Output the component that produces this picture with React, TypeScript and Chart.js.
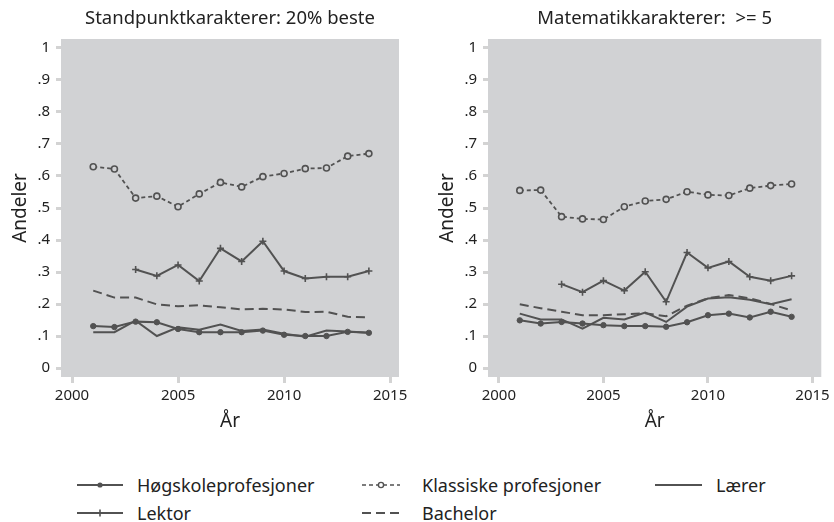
import React, { useEffect, useRef } from "react";
import { Chart, registerables } from "chart.js";

Chart.register(...registerables);

// ---------- data ----------
const years = [2001, 2002, 2003, 2004, 2005, 2006, 2007, 2008, 2009, 2010, 2011, 2012, 2013, 2014];
const yTicks = [0, 0.1, 0.2, 0.3, 0.4, 0.5, 0.6, 0.7, 0.8, 0.9, 1];
const xTicks = [2000, 2005, 2010, 2015];

const leftTitle = "Standpunktkarakterer: 20% beste";
const rightTitle = "Matematikkarakterer:  >= 5";

const hogskoleL = [0.131, 0.128, 0.145, 0.143, 0.122, 0.112, 0.112, 0.112, 0.117, 0.104, 0.100, 0.100, 0.113, 0.110];
const klassiskeL = [0.629, 0.622, 0.531, 0.537, 0.504, 0.544, 0.580, 0.566, 0.598, 0.608, 0.623, 0.625, 0.662, 0.670];
const laererL = [0.112, 0.112, 0.148, 0.100, 0.127, 0.120, 0.136, 0.116, 0.120, 0.107, 0.098, 0.117, 0.114, 0.110];
const lektorL = [null, null, 0.308, 0.288, 0.322, 0.272, 0.374, 0.333, 0.396, 0.303, 0.280, 0.285, 0.285, 0.303];
const bachelorL = [0.242, 0.220, 0.220, 0.199, 0.193, 0.196, 0.190, 0.183, 0.185, 0.183, 0.175, 0.176, 0.160, 0.158];

const hogskoleR = [0.149, 0.139, 0.144, 0.139, 0.134, 0.131, 0.131, 0.129, 0.143, 0.165, 0.170, 0.158, 0.176, 0.160];
const klassiskeR = [0.555, 0.556, 0.473, 0.466, 0.464, 0.504, 0.522, 0.527, 0.551, 0.541, 0.539, 0.562, 0.570, 0.575];
const laererR = [0.170, 0.152, 0.152, 0.123, 0.157, 0.152, 0.173, 0.144, 0.192, 0.217, 0.221, 0.213, 0.199, 0.215];
const lektorR = [null, null, 0.262, 0.237, 0.273, 0.242, 0.301, 0.207, 0.361, 0.313, 0.333, 0.285, 0.273, 0.288];
const bachelorR = [0.199, 0.187, 0.176, 0.165, 0.165, 0.168, 0.171, 0.162, 0.195, 0.218, 0.228, 0.218, 0.200, 0.180];

const seriesNames = ["Høgskoleprofesjoner", "Klassiske profesjoner", "Lærer", "Lektor", "Bachelor"];

// ---------- styles ----------
const FONT = "'Noto Sans', 'DejaVu Sans', sans-serif";
const LINE = "#525252";
const BG = "#d1d2d4";
const TEXT = "#222222";
const TICK = "#d3d3d3";

const toPoints = (vals: (number | null)[]) =>
  years.map((x, i) => ({ x, y: vals[i] })).filter((p) => p.y !== null);

const bgPlugin = {
  id: "plotBg",
  beforeDraw(chart: any) {
    const { ctx, chartArea } = chart;
    if (!chartArea) return;
    ctx.save();
    ctx.fillStyle = BG;
    ctx.fillRect(chartArea.left, chartArea.top, chartArea.right - chartArea.left, chartArea.bottom - chartArea.top);
    ctx.restore();
  },
};

function makeConfig(
  title: string,
  data: { h: any[]; k: any[]; la: any[]; le: any[]; b: any[] },
  yWidth: number,
  yTitlePad: number,
  rightPad: number
): any {
  const base = { borderColor: LINE, borderWidth: 2, tension: 0, fill: false };
  return {
    type: "line",
    data: {
      datasets: [
        { ...base, label: seriesNames[0], data: toPoints(data.h), pointStyle: "circle", pointRadius: 2.7, pointBackgroundColor: LINE, pointBorderColor: LINE, pointBorderWidth: 1 },
        { ...base, label: seriesNames[1], data: toPoints(data.k), borderWidth: 1.8, borderDash: [4, 3], pointStyle: "circle", pointRadius: 3, pointBackgroundColor: BG, pointBorderColor: LINE, pointBorderWidth: 1.6 },
        { ...base, label: seriesNames[2], data: toPoints(data.la), pointRadius: 0 },
        { ...base, label: seriesNames[3], data: toPoints(data.le), pointStyle: "cross", pointRadius: 3.5, pointBorderColor: LINE, pointBorderWidth: 1.6 },
        { ...base, label: seriesNames[4], data: toPoints(data.b), borderDash: [9, 5], pointRadius: 0 },
      ],
    },
    options: {
      responsive: false,
      animation: false,
      devicePixelRatio: 1,
      layout: { padding: { left: 0, right: rightPad, top: 0, bottom: 0 } },
      plugins: {
        legend: { display: false },
        tooltip: { enabled: false },
        title: {
          display: true,
          text: title,
          fullSize: false,
          color: TEXT,
          font: { family: FONT, size: 18.5, weight: "normal", lineHeight: 1.2 },
          padding: { top: 8, bottom: 8.8 },
        },
      },
      scales: {
        x: {
          type: "linear",
          min: 1999.48,
          max: 2015.42,
          afterBuildTicks: (s: any) => {
            s.ticks = xTicks.map((v) => ({ value: v }));
          },
          afterFit: (s: any) => {
            s.height = 63;
          },
          ticks: {
            color: TEXT,
            font: { family: FONT, size: 15 },
            padding: 4,
            maxRotation: 0,
            autoSkip: false,
            callback: (v: any) => String(v),
          },
          grid: { display: true, drawOnChartArea: false, drawTicks: true, tickLength: 6, tickColor: TICK, tickWidth: 3 },
          border: { display: false },
          title: {
            display: true,
            text: "År",
            color: TEXT,
            font: { family: FONT, size: 19 },
            padding: { top: 0, bottom: 7 },
          },
        },
        y: {
          type: "linear",
          min: -0.028,
          max: 1.028,
          afterBuildTicks: (s: any) => {
            s.ticks = yTicks.map((v) => ({ value: v }));
          },
          afterFit: (s: any) => {
            s.width = yWidth;
          },
          ticks: {
            color: TEXT,
            font: { family: FONT, size: 15 },
            padding: 6,
            autoSkip: false,
            callback: (v: any) => {
              const n = Math.round(v * 10);
              if (n === 0) return "0";
              if (n === 10) return "1";
              return "." + n;
            },
          },
          grid: { display: true, drawOnChartArea: false, drawTicks: true, tickLength: 5, tickColor: TICK, tickWidth: 3 },
          border: { display: false },
          title: {
            display: true,
            text: "Andeler",
            color: TEXT,
            font: { family: FONT, size: 19 },
            padding: { top: yTitlePad, bottom: 0 },
          },
        },
      },
    },
    plugins: [bgPlugin],
  };
}

function Panel(props: { cfg: any; left: number }) {
  const ref = useRef<HTMLCanvasElement | null>(null);
  useEffect(() => {
    if (!ref.current) return;
    const chart = new Chart(ref.current, props.cfg);
    return () => chart.destroy();
  }, []);
  return (
    <canvas
      ref={ref}
      width={417}
      height={440}
      style={{ position: "absolute", left: props.left, top: 0, width: 417, height: 440 }}
    />
  );
}

function Sample(props: { dash?: string; marker?: "dot" | "circle" | "cross"; width: number }) {
  const w = props.width;
  const c = w / 2;
  return (
    <svg width={w} height={12} style={{ position: "absolute", left: 0, top: -6 }}>
      <line x1={0} y1={6} x2={w} y2={6} stroke={LINE} strokeWidth={props.dash === "4 3" ? 1.5 : 2} strokeDasharray={props.dash} />
      {props.marker === "dot" && <circle cx={c} cy={6} r={2.6} fill={LINE} />}
      {props.marker === "circle" && <circle cx={c} cy={6} r={2.6} fill="#ffffff" stroke={LINE} strokeWidth={1.4} />}
      {props.marker === "cross" && (
        <g stroke={LINE} strokeWidth={1.6}>
          <line x1={c} y1={2.5} x2={c} y2={9.5} />
        </g>
      )}
    </svg>
  );
}

function LegendItem(props: { x: number; y: number; sw: number; tx: number; label: string; dash?: string; marker?: any }) {
  return (
    <div style={{ position: "absolute", left: props.x, top: props.y, width: 300, height: 0 }}>
      <Sample width={props.sw} dash={props.dash} marker={props.marker} />
      <span
        style={{
          position: "absolute",
          left: props.tx - props.x,
          top: -13,
          fontFamily: FONT,
          fontSize: 18,
          lineHeight: "26px",
          color: TEXT,
          whiteSpace: "nowrap",
        }}
      >
        {props.label}
      </span>
    </div>
  );
}

export default function App() {
  const leftCfg = makeConfig(leftTitle, { h: hogskoleL, k: klassiskeL, la: laererL, le: lektorL, b: bachelorL }, 61, 9, 18);
  const rightCfg = makeConfig(rightTitle, { h: hogskoleR, k: klassiskeR, la: laererR, le: lektorR, b: bachelorR }, 71, 19, 7);
  return (
    <div style={{ position: "absolute", left: 0, top: 0, width: 834, height: 522, background: "#ffffff", overflow: "hidden" }}>
      <Panel cfg={leftCfg} left={0} />
      <Panel cfg={rightCfg} left={417} />
      <LegendItem x={77} y={485} sw={46} tx={137} label={seriesNames[0]} marker="dot" />
      <LegendItem x={362} y={485} sw={38} tx={422} label={seriesNames[1]} dash="4 3" marker="circle" />
      <LegendItem x={655} y={485} sw={47} tx={716} label={seriesNames[2]} />
      <LegendItem x={77} y={513} sw={46} tx={137} label={seriesNames[3]} marker="cross" />
      <LegendItem x={362} y={513} sw={38} tx={422} label={seriesNames[4]} dash="9 5" />
    </div>
  );
}
